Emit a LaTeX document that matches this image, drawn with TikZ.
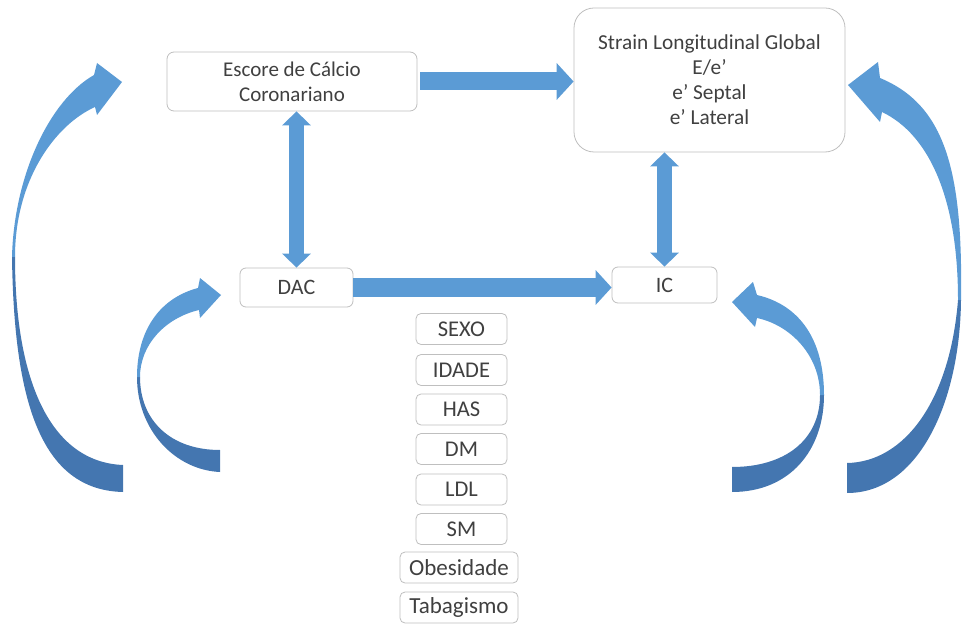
\documentclass[tikz,border=0pt]{standalone}
\usepackage{fontspec}
\setmainfont{Carlito}
\usetikzlibrary{arrows.meta}
\definecolor{ablue}{RGB}{91,155,213}
\definecolor{adark}{RGB}{68,118,176}
\definecolor{txt}{RGB}{64,64,64}
\definecolor{bord}{RGB}{191,191,191}
\begin{document}
\begin{tikzpicture}[x=1pt,y=-1pt,
  box/.style={draw=bord, line width=0.8pt, fill=white, rounded corners=7pt, text=txt, inner sep=0pt, align=center, font=\fontsize{22}{25}\selectfont},
  small/.style={box, rounded corners=5pt, minimum width=91pt, minimum height=31pt, font=\fontsize{22.5}{25}\selectfont},
  wide/.style={box, rounded corners=5pt, minimum width=118pt, minimum height=31pt, font=\fontsize{23}{25}\selectfont},
  harrow/.style={ablue, line width=18pt, -{Triangle[width=36pt,length=17pt]}},
  varrow/.style={ablue, line width=15pt, {Triangle[width=28pt,length=14pt]}-{Triangle[width=28pt,length=14pt]}}]
\useasboundingbox (0,0) rectangle (963,628);
% nodes
\node[box, minimum width=250pt, minimum height=59pt, font=\fontsize{21}{25}\selectfont] (esc) at (292,81.5) {Escore de Cálcio\\Coronariano};
\node[box, rounded corners=20pt, minimum width=271pt, minimum height=144pt, font=\fontsize{21.3}{25}\selectfont] (sgl) at (709.5,80) {Strain Longitudinal Global\\E/e’\\e’ Septal\\e’ Lateral};
\node[box, rounded corners=6pt, minimum width=113pt, minimum height=39pt] (dac) at (296.5,287.5) {DAC};
\node[box, rounded corners=6pt, minimum width=105pt, minimum height=36pt] (ic) at (664.5,285) {IC};
\node[small] (sexo) at (461.5,329) {SEXO};
\node[small] (idade) at (461.5,370) {IDADE};
\node[small] (has) at (461.5,409.5) {HAS};
\node[small] (dm) at (461.5,449) {DM};
\node[small] (ldl) at (461.5,489.5) {LDL};
\node[small] (sm) at (461.5,529) {SM};
\node[wide] (obes) at (459,567.5) {Obesidade};
\node[wide] (tab) at (459,607.5) {Tabagismo};
% straight arrows
\draw[harrow, shorten <=3pt] (esc.east) -- (esc.east -| sgl.west);
\draw[harrow, line width=19pt, -{Triangle[width=34pt,length=16pt]}] (dac.east) -- (dac.east -| ic.west);
\draw[varrow] (dac.north) -- (dac.north |- esc.south);
\draw[varrow] (ic.north) -- (ic.north |- sgl.south);
% curved arrows: left big
\fill[adark] (12,257) .. controls (14,400) and (40,490) .. (123,492) -- (123,465) .. controls (50,462) and (15,380) .. (15,257) -- cycle;
\fill[ablue] (12,257) .. controls (14,175) and (50,100) .. (94,75) -- (97,63) -- (122,82) -- (97,115) -- (95,107) .. controls (55,125) and (15,180) .. (15,257) -- cycle;
% left small
\fill[adark] (137,377) .. controls (137,430) and (175,470) .. (220,472) -- (220,450) .. controls (170,450) and (140,420) .. (140,377) -- cycle;
\fill[ablue] (137,377) .. controls (137,330) and (160,298) .. (198,288) -- (200,278) -- (221,295) -- (200,318) -- (199,310) .. controls (165,318) and (140,345) .. (140,377) -- cycle;
% right small
\fill[adark] (824,395) .. controls (824,450) and (790,492) .. (732,492) -- (732,467) .. controls (785,467) and (820,440) .. (820,395) -- cycle;
\fill[ablue] (824,395) .. controls (824,340) and (800,305) .. (757,295) -- (753,282) -- (732,302) -- (755,327) -- (757,318) .. controls (790,325) and (820,355) .. (820,395) -- cycle;
% right big
\fill[adark] (961,300) .. controls (960,400) and (920,493) .. (847,493) -- (847,463) .. controls (905,462) and (950,400) .. (958,300) -- cycle;
\fill[ablue] (961,300) .. controls (963,170) and (945,105) .. (880,78) -- (878,62) -- (848,85) -- (880,122) -- (882,112) .. controls (930,135) and (958,200) .. (958,300) -- cycle;
\end{tikzpicture}
\end{document}
